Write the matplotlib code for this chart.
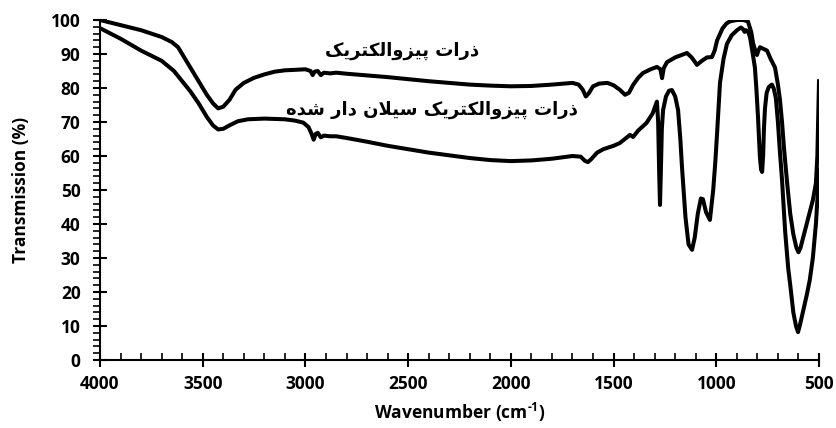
import matplotlib
matplotlib.use("Agg")
import matplotlib.pyplot as plt
from matplotlib.ticker import MultipleLocator

# FTIR spectra: piezoelectric particles before / after silane treatment
wn_raw = [4000, 3900, 3800, 3700, 3650, 3620, 3590, 3560, 3520, 3480, 3450, 3425, 3400,
          3370, 3340, 3300, 3250, 3200, 3150, 3100, 3000, 2975, 2965, 2955, 2940, 2925,
          2910, 2880, 2850, 2800, 2700, 2600, 2500, 2400, 2300, 2200, 2100, 2000, 1900,
          1800, 1700, 1670, 1650, 1635, 1620, 1600, 1570, 1530, 1500, 1470, 1444, 1425,
          1405, 1380, 1357, 1320, 1289, 1272, 1264, 1256, 1240, 1200, 1143, 1120, 1094,
          1070, 1045, 1021, 1008, 996, 970, 950, 933, 900, 870, 846, 830, 821, 810, 802,
          795, 787, 770, 753, 735, 714, 700, 690, 680, 670, 655, 640, 625, 610, 600, 590,
          575, 560, 545, 530, 515, 508, 500]
t_raw = [100, 98.5, 97, 95, 93.5, 92, 89, 86, 82, 78, 75.5, 74, 74.5,
         76.5, 79.5, 81.5, 83, 84, 84.8, 85.2, 85.5, 85, 83.8, 84.8, 85, 83.8,
         84.5, 84.3, 84.5, 84.2, 83.7, 83.2, 82.6, 82, 81.5, 81, 80.7, 80.5, 80.6,
         81, 81.5, 81, 79.5, 77.5, 78.5, 80.5, 81.3, 81.5, 80.8, 79.5, 78, 78.6,
         80.9, 83, 84.4, 85.5, 86.2, 85.5, 82.9, 85.8, 87.6, 89, 90.3, 89, 86.8,
         88, 89, 89.1, 91, 94, 97.5, 99, 99.6, 100, 100, 99.6, 96.5, 93.2, 91, 89.7,
         91, 92, 91.5, 91, 88.5, 86, 81, 76.5, 70, 62, 52, 43, 37, 33, 31.7, 33,
         36.5, 40, 43.5, 47, 52, 60, 82]

wn_sil = [4000, 3900, 3800, 3700, 3640, 3600, 3560, 3520, 3480, 3450, 3425, 3400, 3370,
          3330, 3280, 3200, 3100, 3050, 3010, 2985, 2970, 2960, 2950, 2940, 2925, 2910,
          2880, 2850, 2800, 2700, 2600, 2500, 2400, 2300, 2200, 2100, 2000, 1900, 1800,
          1700, 1660, 1640, 1625, 1610, 1580, 1550, 1500, 1470, 1445, 1420, 1405, 1380,
          1340, 1310, 1295, 1289, 1283, 1278, 1274, 1270, 1265, 1259, 1245, 1230, 1216,
          1200, 1186, 1175, 1167, 1150, 1135, 1118, 1105, 1090, 1075, 1065, 1050, 1031,
          1015, 1005, 996, 982, 965, 948, 925, 899, 880, 870, 862, 855, 845, 836, 825,
          812, 805, 797, 788, 782, 777, 772, 768, 763, 755, 745, 735, 729, 720, 710,
          700, 690, 680, 665, 650, 641, 625, 612, 602, 592, 575, 560, 545, 530, 515,
          505, 500]
t_sil = [97.6, 94.5, 91, 88, 85, 82, 79, 75.5, 71.5, 69, 67.8, 68, 69,
         70.2, 70.8, 71, 70.8, 70.4, 69.8, 68.5, 66.5, 64.8, 66.5, 66.8, 65.5, 66,
         65.8, 65.8, 65.3, 64.2, 63, 62, 61, 60.2, 59.4, 58.8, 58.5, 58.7, 59.2,
         60, 59.8, 58.6, 58.2, 59, 61, 62, 63, 63.8, 65, 66.2, 65.6, 67.5,
         69.7, 72.5, 75, 76, 70, 55, 45.6, 55, 68, 73.5, 77.5, 79.2, 79.4,
         77.5, 73.5, 65, 56.8, 42, 34, 32.4, 36, 43, 47.5, 47.3, 43.5, 41.2,
         50, 58, 66.8, 81.5, 88.5, 93, 95.5, 97, 97.8, 97.3, 96.5, 97, 96.5, 95, 91,
         86, 80, 71.5, 60, 56, 55.3, 60, 68, 74, 78.5, 80.2, 80.8, 81, 79.8, 77,
         70, 61, 53, 38, 27, 22.6, 14, 10, 8.2, 10.5, 15, 19, 23.5, 30, 40,
         50, 56]

x_ticks = [4000, 3500, 3000, 2500, 2000, 1500, 1000, 500]
y_ticks = list(range(0, 101, 10))


def persian(forms):
    # presentation forms in reading order -> left-to-right drawing order
    return "".join(forms)[::-1]


# ذرات پیزوالکتریک
w_zarrat = ["\uFEAB", "\uFEAD", "\uFE8D", "\uFE95"]
w_piezo = ["\uFB58", "\uFBFF", "\uFEB0", "\uFEED", "\uFE8D", "\uFEDF", "\uFB91",
           "\uFE98", "\uFEAE", "\uFBFE", "\uFB8F"]
# سیلان دار شده
w_silan = ["\uFEB3", "\uFBFF", "\uFEFC", "\uFEE5"]
w_dar = ["\uFEA9", "\uFE8D", "\uFEAD"]
w_shode = ["\uFEB7", "\uFEAA", "\uFEE9"]

label_raw = persian(w_zarrat + [" "] + w_piezo)
label_sil = persian(w_zarrat + [" "] + w_piezo + [" "] + w_silan + [" "] + w_dar
                    + [" "] + w_shode)

plt.rcParams["font.family"] = ["Open Sans", "DejaVu Sans"]
plt.rcParams["font.weight"] = "bold"
plt.rcParams["axes.unicode_minus"] = False
plt.rcParams["mathtext.fontset"] = "custom"
plt.rcParams["mathtext.rm"] = "Open Sans:bold"
plt.rcParams["mathtext.bf"] = "Open Sans:bold"

fig = plt.figure(figsize=(8.37, 4.28), dpi=100)
ax = fig.add_axes([100 / 837, 1 - 360 / 428, 719 / 837, 340 / 428])

ax.plot(wn_raw, t_raw, color="black", lw=2.9, solid_joinstyle="round")
ax.plot(wn_sil, t_sil, color="black", lw=2.9, solid_joinstyle="round")

ax.set_xlim(4000, 500)
ax.set_ylim(0, 100)
ax.set_xticks(x_ticks)
ax.set_yticks(y_ticks)
ax.xaxis.set_minor_locator(MultipleLocator(100))
ax.yaxis.set_minor_locator(MultipleLocator(2))

for s in ["top", "right"]:
    ax.spines[s].set_visible(False)
for s in ["left", "bottom"]:
    ax.spines[s].set_linewidth(1.5)

ax.tick_params(which="major", direction="inout", length=10, width=1.5, labelsize=12.5)
ax.tick_params(axis="x", which="minor", direction="in", length=5, width=1.2)
ax.tick_params(axis="y", which="minor", direction="out", length=5, width=1.2)
ax.tick_params(axis="x", which="major", pad=6)
ax.tick_params(axis="y", which="major", pad=9)

ax.set_xlabel(r"Wavenumber (cm$^{\text{-1}}$)", fontsize=12.5, fontweight="bold")
ax.set_ylabel("Transmission (%)", fontsize=12.5, fontweight="bold")
ax.xaxis.set_label_coords(0.5, -0.12)
ax.yaxis.set_label_coords(-0.097, 0.5)

ax.text(2530, 90.8, label_raw, ha="center", va="center", fontsize=13,
        fontweight="bold", family="DejaVu Sans")
ax.text(2384, 73.5, label_sil, ha="center", va="center", fontsize=13,
        fontweight="bold", family="DejaVu Sans")

fig.savefig("out.png", dpi=100)
